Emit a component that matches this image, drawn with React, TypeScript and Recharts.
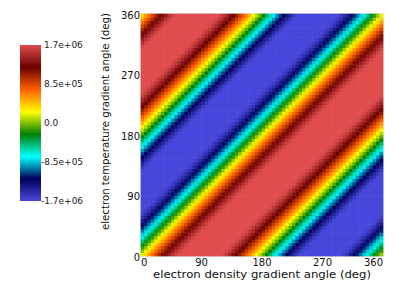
import React from 'react';
import { ScatterChart, Scatter, XAxis, YAxis, ReferenceArea } from 'recharts';

// ---- data ----
const xTicks = [0, 90, 180, 270, 360];
const yTicks = [0, 90, 180, 270, 360];
const xTitle = 'electron density gradient angle (deg)';
const yTitle = 'electron temperature gradient angle (deg)';

// cell grid (degrees), 5-degree cells
const gridStep = 5;
const gridCenters = [
  2.5, 7.5, 12.5, 17.5, 22.5, 27.5, 32.5, 37.5, 42.5, 47.5, 52.5, 57.5,
  62.5, 67.5, 72.5, 77.5, 82.5, 87.5, 92.5, 97.5, 102.5, 107.5, 112.5, 117.5,
  122.5, 127.5, 132.5, 137.5, 142.5, 147.5, 152.5, 157.5, 162.5, 167.5, 172.5, 177.5,
  182.5, 187.5, 192.5, 197.5, 202.5, 207.5, 212.5, 217.5, 222.5, 227.5, 232.5, 237.5,
  242.5, 247.5, 252.5, 257.5, 262.5, 267.5, 272.5, 277.5, 282.5, 287.5, 292.5, 297.5,
  302.5, 307.5, 312.5, 317.5, 322.5, 327.5, 332.5, 337.5, 342.5, 347.5, 352.5, 357.5,
];

// value (x1e6) along the stripe phase (density angle - temperature angle), 0..355 step 5
const phaseValues = [
  0.20, 0.37, 0.54, 0.70, 0.86, 1.01, 1.15, 1.29, 1.41, 1.53, 1.63, 1.73,
  1.81, 1.87, 1.93, 1.96, 1.99, 2.00, 2.00, 1.98, 1.94, 1.90, 1.83, 1.76,
  1.67, 1.57, 1.46, 1.34, 1.21, 1.07, 0.92, 0.77, 0.60, 0.44, 0.27, 0.10,
  -0.07, -0.25, -0.43, -0.60, -0.77, -0.93, -1.08, -1.23, -1.36, -1.49, -1.60, -1.70,
  -1.79, -1.86, -1.92, -1.96, -1.99, -2.00, -1.99, -1.97, -1.94, -1.89, -1.82, -1.74,
  -1.64, -1.53, -1.41, -1.28, -1.14, -0.99, -0.83, -0.66, -0.49, -0.32, -0.14, 0.03,
];

const colorbarValues = [1.7e6, 8.5e5, 0, -8.5e5, -1.7e6];
const colorbarLabels = ['1.7e+06', '8.5e+05', '0.0', '-8.5e+05', '-1.7e+06'];
const vMin = -1.7e6;
const vMax = 1.7e6;

// ---- colormap (rainbow desaturated) ----
const CMAP: number[][] = [
  [0.0, 71, 71, 219],
  [0.143, 0, 0, 92],
  [0.285, 0, 255, 255],
  [0.429, 0, 128, 0],
  [0.571, 255, 255, 0],
  [0.714, 255, 97, 0],
  [0.857, 107, 0, 0],
  [1.0, 224, 77, 77],
];

function colorOf(v: number): string {
  let t = (v - vMin) / (vMax - vMin);
  t = Math.max(0, Math.min(1, t));
  for (let k = 0; k < CMAP.length - 1; k++) {
    const a = CMAP[k];
    const b = CMAP[k + 1];
    if (t <= b[0]) {
      const f = (t - a[0]) / (b[0] - a[0]);
      const r = Math.round(a[1] + (b[1] - a[1]) * f);
      const g = Math.round(a[2] + (b[2] - a[2]) * f);
      const bl = Math.round(a[3] + (b[3] - a[3]) * f);
      return `rgb(${r},${g},${bl})`;
    }
  }
  const l = CMAP[CMAP.length - 1];
  return `rgb(${l[1]},${l[2]},${l[3]})`;
}

const n = gridCenters.length;
const cells: { x: number; y: number; v: number }[] = [];
for (let j = 0; j < n; j++) {
  for (let i = 0; i < n; i++) {
    cells.push({ x: gridCenters[i], y: gridCenters[j], v: phaseValues[(i - j + n) % n] * 1e6 });
  }
}

// ---- layout ----
const W = 415;
const H = 302;
const margin = { top: 14, right: 32, bottom: 16, left: 101 };
const yAxisW = 40;
const xAxisH = 30;
const plotW = W - margin.left - margin.right - yAxisW;
const plotH = H - margin.top - margin.bottom - xAxisH;
const cellW = (plotW * gridStep) / 360;
const cellH = (plotH * gridStep) / 360;
const FONT = 'DejaVu Sans';

const CellShape = (p: any) => (
  <rect
    x={p.cx - cellW / 2 - 0.3}
    y={p.cy - cellH / 2 - 0.3}
    width={cellW + 0.6}
    height={cellH + 0.6}
    fill={colorOf(p.payload.v)}
  />
);

const XTick = (p: any) => {
  const v = p.payload.value;
  const anchor = v === xTicks[0] ? 'start' : v === xTicks[xTicks.length - 1] ? 'end' : 'middle';
  return (
    <text x={p.x} y={266} textAnchor={anchor} fontFamily={FONT} fontSize={10} fill="#111">
      {v}
    </text>
  );
};

const YTick = (p: any) => {
  const v = p.payload.value;
  return (
    <text x={140} y={p.y + 4.5} textAnchor="end" fontFamily={FONT} fontSize={10} fill="#111">
      {v}
    </text>
  );
};

const cbX = 20;
const cbY = 45;
const cbW = 21;
const cbH = 156;

export default function App() {
  return (
    <div style={{ position: 'absolute', left: 0, top: 0, width: W, height: H, background: '#fff' }}>
      <ScatterChart width={W} height={H} margin={margin}>
        <XAxis
          type="number"
          dataKey="x"
          domain={[0, 360]}
          ticks={xTicks}
          axisLine={false}
          tickLine={false}
          height={xAxisH}
          tick={<XTick />}
          interval={0}
        />
        <YAxis
          type="number"
          dataKey="y"
          domain={[0, 360]}
          ticks={yTicks}
          axisLine={false}
          tickLine={false}
          width={yAxisW}
          tick={<YTick />}
          interval={0}
        />
        <Scatter data={cells} shape={<CellShape />} isAnimationActive={false} />
        <ReferenceArea x1={0} x2={360} y1={0} y2={360} fill="none" stroke="#d4d4d4" strokeWidth={1} fillOpacity={0} />
      </ScatterChart>
      <svg
        width={W}
        height={H}
        style={{ position: 'absolute', left: 0, top: 0, pointerEvents: 'none' }}
      >
        <defs>
          <linearGradient id="cbar" x1="0" y1="1" x2="0" y2="0">
            {CMAP.map((s, k) => (
              <stop key={k} offset={s[0]} stopColor={`rgb(${s[1]},${s[2]},${s[3]})`} />
            ))}
          </linearGradient>
        </defs>
        <rect x={cbX} y={cbY} width={cbW} height={cbH} fill="url(#cbar)" />
        {colorbarValues.map((v, k) => {
          const y = cbY + ((vMax - v) / (vMax - vMin)) * cbH;
          const lab = colorbarLabels[k];
          return (
            <text
              key={k}
              x={lab.startsWith('-') ? 41 : 44}
              y={y + 3.2}
              fontFamily={FONT}
              fontSize={9}
              fill="#222"
            >
              {lab}
            </text>
          );
        })}
        <text
          x={262}
          y={278}
          textAnchor="middle"
          fontFamily={FONT}
          fontSize={10.5}
          fill="#111"
          textLength={218}
          lengthAdjust="spacingAndGlyphs"
        >
          {xTitle}
        </text>
        <text
          x={108.5}
          y={121.5}
          textAnchor="middle"
          fontFamily={FONT}
          fontSize={10.5}
          fill="#111"
          textLength={217}
          lengthAdjust="spacingAndGlyphs"
          transform="rotate(-90 108.5 121.5)"
        >
          {yTitle}
        </text>
      </svg>
    </div>
  );
}
